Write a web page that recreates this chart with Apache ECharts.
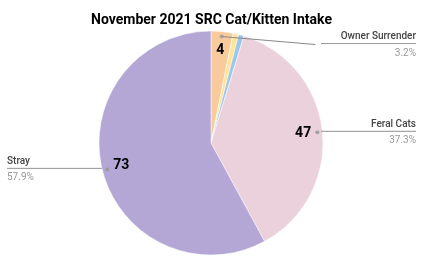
<!DOCTYPE html>
<html><head><meta charset="utf-8">
<script src="https://cdn.jsdelivr.net/npm/echarts@6/dist/echarts.min.js"></script>
<style>html,body{margin:0;padding:0;background:#fff}#c{width:423px;height:261px}</style>
</head><body><div id="c"></div>
<script>
const titleText = 'November 2021 SRC Cat/Kitten Intake';
const categories = ['Owner Surrender', 'Transfer In', 'Return', 'Feral Cats', 'Stray'];
const values = [4, 1, 1, 47, 73];
const colors = ['#f9cb9c', '#ffe599', '#9fc5e8', '#ead1dc', '#b4a7d6'];
const showLabel = [true, false, false, true, true];

const total = values.reduce((a, b) => a + b, 0);
const mids = [];
let acc = 0;
values.forEach(v => { mids.push(acc + v / 2); acc += v; });

const CX = 211, CY = 143, R = 112, RL = 107;
const FONT = 'Roboto, "Noto Sans", sans-serif';
const OWNER_DY = 8;

const baseData = categories.map((n, i) => ({ name: n, value: values[i], itemStyle: { color: colors[i] } }));

const chart = echarts.init(document.getElementById('c'), null, { renderer: 'canvas' });
chart.setOption({
  animation: false,
  backgroundColor: '#fff',
  title: {
    text: titleText, left: 'center', top: 8,
    textStyle: { fontFamily: FONT, fontSize: 14, fontWeight: 'bold', color: '#000' }
  },
  polar: { center: [CX, CY], radius: R },
  angleAxis: { type: 'value', min: 0, max: total, startAngle: 90, clockwise: true, show: false },
  radiusAxis: { type: 'value', min: 0, max: R, show: false },
  series: [
    {
      type: 'pie', center: [CX, CY], radius: [0, R], startAngle: 90, clockwise: true,
      silent: true, z: 1,
      itemStyle: { borderColor: '#fff', borderWidth: 0.5 },
      label: { show: false }, labelLine: { show: false },
      data: baseData
    },
    {
      type: 'pie', center: [CX, CY], radius: [R * 0.6, R], startAngle: 90, clockwise: true,
      silent: true, z: 3,
      itemStyle: { color: 'rgba(0,0,0,0)' },
      label: {
        show: true, position: 'inside', formatter: '{c}',
        fontFamily: FONT, fontSize: 14, fontWeight: 'bold', color: '#000'
      },
      labelLine: { show: false },
      data: categories.map((n, i) => ({ name: n, value: values[i], label: { show: showLabel[i] } }))
    },
    {
      type: 'pie', center: [CX, CY], radius: [0, RL], startAngle: 90, clockwise: true,
      silent: true, z: 2, percentPrecision: 1,
      itemStyle: { color: 'rgba(0,0,0,0)' },
      label: {
        show: true, position: 'outside', alignTo: 'edge', edgeDistance: 7,
        formatter: '{n|{b}}\n{hr|}\n{p|{d}%}',
        width: 95,
        rich: {
          n: { fontFamily: FONT, fontSize: 10, fontWeight: 500, color: '#444', lineHeight: 14 },
          hr: { width: '100%', height: 0, borderColor: '#888', borderWidth: 0.6 },
          p: { fontFamily: FONT, fontSize: 10, color: '#999', lineHeight: 16, padding: [3, 0, 0, 0] }
        }
      },
      labelLine: { show: true, length: 0, length2: 0, lineStyle: { color: '#888', width: 1 } },
      labelLayout: function (p) {
        if (p.dataIndex !== 0 || !p.labelLinePoints) return {};
        const pts = p.labelLinePoints;
        const first = pts[0];
        const last = pts[pts.length - 1];
        return {
          dy: OWNER_DY,
          labelLinePoints: [[first[0], first[1]], [first[0], first[1]], [last[0], last[1] + OWNER_DY]]
        };
      },
      data: categories.map((n, i) => ({
        name: n, value: values[i],
        label: { show: showLabel[i] }, labelLine: { show: showLabel[i] }
      }))
    },
    {
      type: 'scatter', coordinateSystem: 'polar', silent: true, z: 5,
      symbol: 'circle', symbolSize: 4,
      itemStyle: { color: '#999' },
      data: mids.map((m, i) => showLabel[i] ? [RL, m] : null).filter(d => d)
    }
  ]
});
</script>
</body></html>
